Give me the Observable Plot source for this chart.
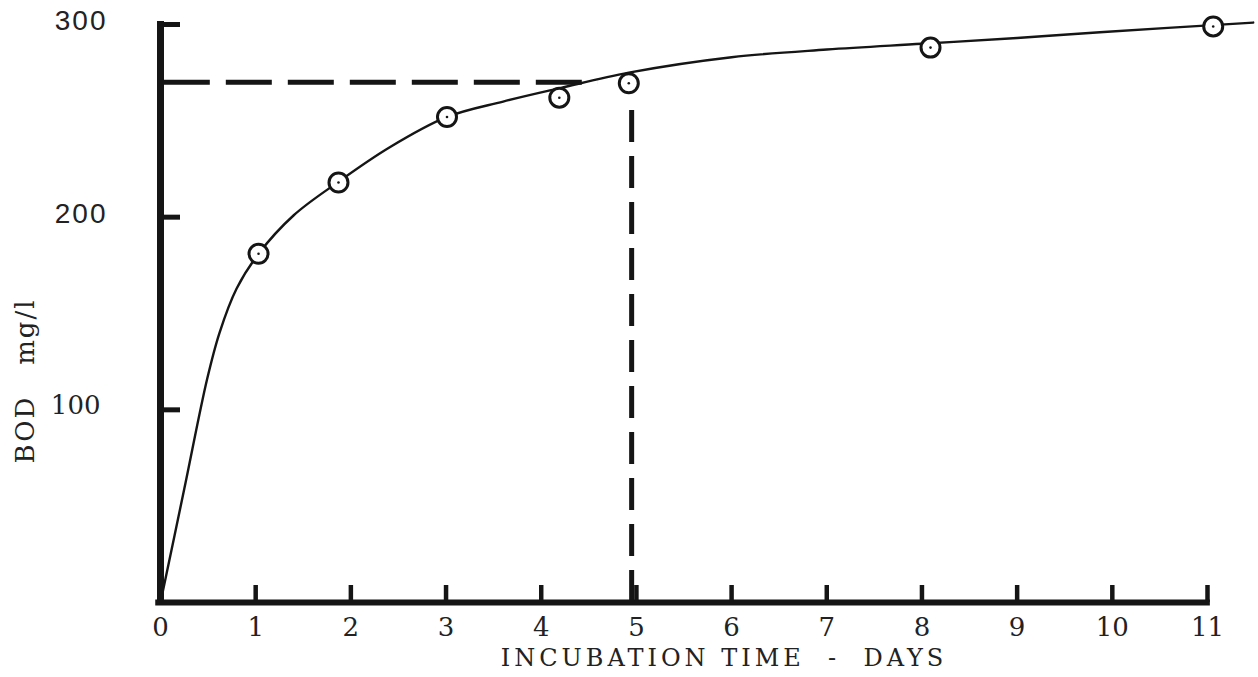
<!DOCTYPE html>
<html><head><meta charset="utf-8">
<script src="https://cdn.jsdelivr.net/npm/d3@7"></script>
<script src="https://cdn.jsdelivr.net/npm/@observablehq/plot@0.6"></script>
<style>html,body{margin:0;padding:0;background:#fff} svg{display:block}</style>
</head><body><div id="chart"></div>
<script>
// Observed BOD (mg/l) against incubation time (days)
const obsDays = [1.03, 1.87, 3.01, 4.19, 4.92, 8.09, 11.06];
const obsBOD  = [181, 218, 252, 262, 269.5, 288, 299];

// Hand-drawn fitted curve
const curveDays = [0, 0.25, 0.49, 0.62, 0.8, 1.03, 1.4, 1.86, 2.4, 3.01, 3.6, 4.2, 4.92, 6.0, 7.0, 8.0, 9.0, 9.87, 11.48];
const curveBOD  = [0, 59, 116, 140, 163, 181, 201, 218, 236, 252, 260, 267, 275, 283, 287, 290, 293, 296, 301];

// Guide lines (5-day BOD)
const guideBOD = [270];
const guideDayStart = 0.04, guideDayEnd = 4.6;
const guideDay = [4.95];
const guideTopBOD = 259;

// Axes
const xTicks = [1, 2, 3, 4, 5, 6, 7, 8, 9, 10, 11];
const xTickLabels = [0, 1, 2, 3, 4, 5, 6, 7, 8, 9, 10, 11];
const yTicks = [100, 200, 300];
const xAxisExtent = [-0.05, 11.03];
const yAxisExtent = [0, 301.5];
const xLabel = "INCUBATION TIME\u00a0\u00a0-\u00a0\u00a0DAYS";
const yLabel = "BOD\u00a0\u00a0\u00a0mg/l";
const yLabelAt = [115]; // BOD level at the centre of the rotated label

const obs = obsDays.map((d, i) => ({day: d, bod: obsBOD[i]}));
const curve = curveDays.map((d, i) => ({day: d, bod: curveBOD[i]}));

const W = 1258, H = 677, mL = 160, mR = 51, mT = 24, mB = 75;
const frameW = W - mL - mR, frameH = H - mT - mB;
const ink = "#151515";
const serif = "DejaVu Serif";
const sans = "Liberation Sans";

const svg = Plot.plot({
  width: W, height: H,
  marginLeft: mL, marginRight: mR, marginTop: mT, marginBottom: mB,
  x: {domain: [0, 11], axis: null},
  y: {domain: [0, 300], axis: null},
  style: {background: "white"},
  marks: [
    // guide dashed lines
    Plot.ruleY(guideBOD, {x1: guideDayStart, x2: guideDayEnd, stroke: ink, strokeWidth: 5, strokeDasharray: "46,16"}),
    Plot.ruleX(guideDay, {y1: 0, y2: guideTopBOD, stroke: ink, strokeWidth: 5, strokeDasharray: "32,14"}),
    // axis lines
    Plot.ruleY([0], {x1: xAxisExtent[0], x2: xAxisExtent[1], stroke: ink, strokeWidth: 6}),
    Plot.ruleX([0], {y1: yAxisExtent[0], y2: yAxisExtent[1], stroke: ink, strokeWidth: 7}),
    // inward ticks
    Plot.tickX(xTicks, {x: d => d, insetTop: frameH - 17, stroke: ink, strokeWidth: 4.5}),
    Plot.tickY(yTicks, {y: d => d, insetRight: frameW - 20, stroke: ink, strokeWidth: 5}),
    // tick labels
    Plot.text(xTickLabels, {x: d => d, y: 0, dy: 25, text: d => String(d), fontFamily: serif, fontSize: 26, fill: "#222"}),
    Plot.text(yTicks.filter(d => d === 100), {x: 0, y: d => d, dx: -60, dy: -4, text: d => String(d), textAnchor: "end", fontFamily: serif, fontSize: 26, fill: "#222"}),
    Plot.text(yTicks.filter(d => d !== 100), {x: 0, y: d => d, dx: -53, dy: -3, text: d => String(d), textAnchor: "end", fontFamily: sans, fontSize: 28, fill: "#222"}),
    // axis titles
    Plot.text([xLabel], {frameAnchor: "bottom", dx: 40, dy: 63, text: d => d, fontFamily: serif, fontSize: 24, fill: "#222"}),
    Plot.text(yLabelAt, {y: d => d, frameAnchor: "left", textAnchor: "middle", dx: -135, rotate: -90, text: () => yLabel, fontFamily: serif, fontSize: 26, fill: "#222"}),
    // curve and observations
    Plot.line(curve, {x: "day", y: "bod", curve: "catmull-rom", stroke: ink, strokeWidth: 2.4}),
    Plot.dot(obs, {x: "day", y: "bod", r: 9.5, fill: "white", stroke: ink, strokeWidth: 3}),
    Plot.dot(obs, {x: "day", y: "bod", r: 1.3, fill: ink})
  ]
});

const texts = d3.select(svg).selectAll("text");
texts.filter(function () { return this.textContent === xLabel; }).style("letter-spacing", "4px");
texts.filter(function () { return this.textContent === yLabel; }).style("letter-spacing", "2px");
texts.filter(function () { return this.textContent === "200" || this.textContent === "300"; }).style("letter-spacing", "2px");
document.getElementById("chart").appendChild(svg);
</script>
</body></html>
